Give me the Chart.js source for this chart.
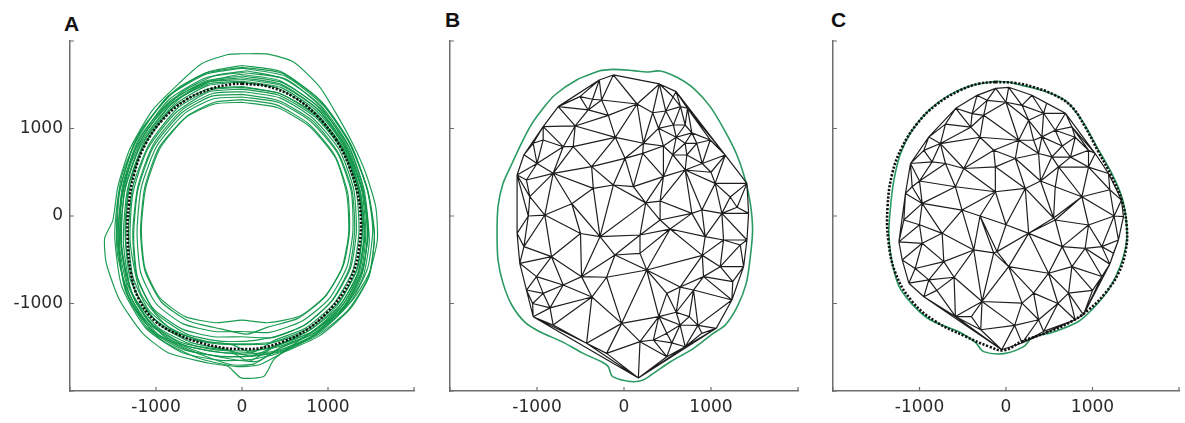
<!DOCTYPE html>
<html><head><meta charset="utf-8">
<script src="https://cdn.jsdelivr.net/npm/chart.js@4.4.1/dist/chart.umd.min.js"></script>
<style>
html,body{margin:0;padding:0;background:#fff;width:1185px;height:423px;overflow:hidden;position:relative;}
canvas{position:absolute;top:0;}
.lbl{position:absolute;font:bold 21px "Liberation Sans",Arial,sans-serif;color:#111;line-height:normal;}
</style></head><body>
<div class="lbl" style="left:64px;top:12px">A</div>
<div class="lbl" style="left:445px;top:8px">B</div>
<div class="lbl" style="left:831px;top:8px">C</div>
<canvas id="ca" width="420" height="423" style="left:0px"></canvas>
<canvas id="cb" width="424" height="423" style="left:380px"></canvas>
<canvas id="cc" width="422" height="423" style="left:763px"></canvas>
<script>
// ---------- data ----------
const tickVals = [-1000, 0, 1000];
const axisMarks = [-2000, -1000, 0, 1000, 2000];

const meanA = [[0,1512],[294,1482],[600,1360],[867,1151],[1096,866],[1249,562],[1345,258],[1383,-46],[1364,-350],[1306,-616],[1173,-882],[982,-1110],[753,-1300],[485,-1433],[218,-1509],[0,-1520],[-202,-1509],[-470,-1452],[-737,-1357],[-1005,-1205],[-1196,-958],[-1291,-654],[-1329,-274],[-1318,106],[-1253,486],[-1119,828],[-928,1094],[-661,1322],[-355,1455],[-126,1505]];

const loop1 = [[0,1854],[300,1850],[600,1760],[905,1474],[1096,1170],[1287,828],[1440,486],[1555,106],[1574,-274],[1478,-654],[1287,-958],[1020,-1186],[676,-1414],[370,-1642],[256,-1832],[-11,-1850],[-164,-1718],[-393,-1680],[-852,-1566],[-1157,-1338],[-1425,-958],[-1578,-540],[-1597,-255],[-1501,-46],[-1444,334],[-1310,752],[-1043,1208],[-737,1512],[-470,1740],[-164,1846]];
const loop2 = [[0,1720],[450,1650],[900,1330],[1230,870],[1450,330],[1520,-150],[1460,-600],[1250,-1000],[900,-1330],[450,-1560],[100,-1640],[-250,-1650],[-700,-1560],[-1120,-1280],[-1400,-800],[-1480,-200],[-1400,450],[-1160,1000],[-760,1450],[-380,1650]];
const loop3 = [[0,1690],[500,1600],[950,1260],[1280,780],[1470,250],[1540,-250],[1470,-700],[1230,-1080],[880,-1360],[480,-1540],[150,-1600],[-200,-1610],[-620,-1540],[-1050,-1300],[-1340,-880],[-1450,-300],[-1420,300],[-1230,880],[-850,1370],[-420,1620]];
const loop4 = [[50,1660],[520,1560],[930,1230],[1240,760],[1420,220],[1480,-280],[1400,-720],[1150,-1100],[800,-1380],[400,-1540],[0,-1580],[-380,-1540],[-780,-1440],[-1150,-1170],[-1380,-720],[-1440,-150],[-1360,420],[-1120,960],[-720,1400],[-330,1600]];
const loop5 = [[-30,1620],[430,1550],[880,1250],[1200,800],[1390,300],[1440,-200],[1380,-650],[1160,-1030],[820,-1320],[400,-1480],[80,-1660],[-150,-1540],[-560,-1480],[-980,-1270],[-1290,-860],[-1400,-320],[-1370,260],[-1180,800],[-820,1280],[-420,1530]];
const loop6 = [[0,1580],[470,1500],[900,1200],[1220,740],[1380,260],[1420,-240],[1340,-680],[1120,-1040],[760,-1320],[300,-1460],[0,-1470],[-300,-1460],[-700,-1380],[-1070,-1130],[-1300,-720],[-1360,-180],[-1310,380],[-1120,880],[-740,1330],[-360,1540]];
const loop7 = [[0,1330],[400,1270],[780,1050],[1080,690],[1230,260],[1250,-180],[1180,-560],[980,-900],[680,-1140],[300,-1220],[0,-1190],[-300,-1220],[-660,-1150],[-960,-930],[-1130,-590],[-1170,-150],[-1120,320],[-950,780],[-640,1140],[-320,1300]];
const loop8 = [[0,1360],[420,1300],[800,1080],[1110,720],[1270,280],[1290,-170],[1220,-580],[1010,-950],[700,-1200],[320,-1330],[0,-1320],[-320,-1320],[-690,-1230],[-1000,-1000],[-1180,-640],[-1220,-170],[-1170,330],[-990,800],[-670,1170],[-330,1340]];
const loop9 = [[20,1420],[440,1350],[820,1120],[1130,760],[1300,300],[1330,-180],[1260,-600],[1040,-980],[720,-1250],[350,-1390],[0,-1380],[-330,-1380],[-700,-1290],[-1040,-1050],[-1230,-660],[-1270,-180],[-1210,340],[-1030,820],[-700,1210],[-340,1400]];
const loop10 = [[0,1450],[430,1380],[850,1130],[1160,760],[1330,280],[1360,-190],[1290,-620],[1070,-1000],[740,-1280],[380,-1420],[120,-1560],[-120,-1470],[-500,-1420],[-880,-1250],[-1180,-880],[-1300,-300],[-1270,250],[-1100,760],[-770,1180],[-380,1420]];
const loop11 = [[-20,1530],[420,1460],[860,1180],[1180,760],[1350,300],[1400,-160],[1330,-620],[1110,-1020],[780,-1310],[400,-1480],[60,-1560],[-250,-1560],[-660,-1480],[-1040,-1250],[-1290,-850],[-1380,-280],[-1330,310],[-1130,830],[-780,1270],[-400,1490]];
const loop12 = [[0,1600],[480,1520],[920,1220],[1250,780],[1420,300],[1470,-190],[1390,-650],[1170,-1050],[820,-1350],[420,-1520],[180,-1660],[-100,-1640],[-480,-1560],[-900,-1380],[-1240,-980],[-1400,-420],[-1400,180],[-1240,760],[-880,1260],[-430,1540]];
const loop13 = [[0,1480],[440,1400],[860,1160],[1180,780],[1360,300],[1420,-200],[1350,-640],[1130,-1040],[800,-1330],[420,-1480],[100,-1600],[-200,-1520],[-580,-1450],[-960,-1240],[-1240,-860],[-1350,-320],[-1320,260],[-1150,780],[-820,1220],[-400,1450]];
const loop14 = [[30,1560],[460,1490],[880,1220],[1210,790],[1400,290],[1460,-220],[1390,-690],[1170,-1080],[830,-1370],[440,-1540],[100,-1600],[-280,-1600],[-700,-1520],[-1100,-1280],[-1360,-840],[-1440,-260],[-1390,340],[-1200,880],[-830,1320],[-400,1530]];
const loop15 = [[0,1390],[420,1320],[820,1090],[1120,720],[1280,290],[1310,-160],[1250,-590],[1050,-960],[740,-1240],[380,-1380],[60,-1430],[-260,-1430],[-640,-1350],[-1000,-1110],[-1210,-730],[-1260,-230],[-1210,300],[-1030,790],[-700,1180],[-350,1370]];
const loop16 = [[0,1640],[480,1570],[910,1270],[1230,820],[1400,340],[1460,-140],[1410,-600],[1210,-1010],[860,-1330],[460,-1500],[140,-1690],[-120,-1700],[-540,-1560],[-980,-1350],[-1300,-920],[-1420,-380],[-1400,220],[-1220,820],[-860,1320],[-420,1580]];
const loop17 = [[10,1540],[450,1470],[870,1200],[1190,790],[1370,290],[1430,-200],[1360,-660],[1140,-1060],[790,-1350],[400,-1500],[60,-1540],[-300,-1530],[-720,-1440],[-1090,-1200],[-1330,-780],[-1410,-220],[-1350,360],[-1160,860],[-800,1300],[-390,1510]];
const loop18 = [[0,1300],[410,1240],[790,1020],[1090,660],[1220,240],[1240,-200],[1160,-600],[960,-930],[650,-1170],[300,-1270],[60,-1350],[-250,-1290],[-620,-1200],[-940,-980],[-1130,-620],[-1180,-170],[-1130,330],[-960,790],[-650,1130],[-320,1280]];
const loop19 = [[0,1700],[470,1630],[930,1300],[1260,830],[1460,300],[1540,-200],[1480,-680],[1260,-1060],[900,-1370],[480,-1560],[200,-1700],[-80,-1720],[-520,-1620],[-960,-1400],[-1290,-990],[-1450,-420],[-1440,200],[-1250,820],[-870,1360],[-430,1630]];
const loop20 = [[0,1470],[440,1400],[850,1150],[1170,770],[1350,310],[1400,-170],[1340,-610],[1120,-990],[780,-1280],[360,-1440],[0,-1460],[-380,-1440],[-760,-1330],[-1080,-1080],[-1270,-690],[-1320,-200],[-1270,330],[-1080,820],[-740,1240],[-360,1440]];
const greenLoopsA = [loop1,loop2,loop3,loop4,loop5,loop6,loop7,loop8,loop9,loop10,loop11,loop12,loop13,loop14,loop15,loop16,loop17,loop18,loop19,loop20];

const nodesB = [[-284,1554],[-123,1612],[407,1509],[599,1421],[730,1231],[991,869],[1164,697],[1413,373],[1432,30],[1413,-274],[1375,-579],[1240,-960],[1060,-1284],[703,-1494],[492,-1608],[165,-1852],[-200,-1570],[-430,-1455],[-814,-1246],[-1044,-1151],[-1121,-846],[-1198,-541],[-1229,-198],[-1229,469],[-1044,831],[-929,1021],[-756,1250],[-507,1364],
[-361,1334],[-257,1326],[-411,1212],[396,1002],[568,1040],[703,1040],[703,831],[722,697],[837,831],[223,831],[453,800],[215,716],[12,659],[-372,564],[-584,792],[-699,792],[-929,869],[-814,488],[-1121,411],[-910,11],[-1083,221],[-353,316],[108,335],[453,450],[703,526],[1048,373],[780,30],[895,69],[1125,30],[1144,-274],[1336,-331],[933,-236],[415,-46],[184,-427],[-104,-446],[-833,-465],[-1006,-693],[-929,-884],[-699,-789],[-27,-1227],[261,-617],[492,-884],[799,-846],[914,-693],[1106,-579],[184,-1436],[338,-1417],[492,-1341],[645,-1246],[895,-1341],[-276,-236],[-488,-693],[-123,354],[564,1360],[415,171],[1221,217],[645,-812],[184,-217],[530,-149],[-369,-926],[-180,1150],[150,1280],[-561,1029],[-100,899],[330,1180],[-600,140],
[650,1250],[480,1200],[600,900],[780,950],[560,700],[900,600],[1000,500],[-1150,-350],[-1100,0],[-1000,600],[-1150,700],[-850,-1050],[-1050,-1000],[600,-1100],[750,-1150],[850,-1250],[400,-1150],[550,-1450],[-500,-200],[250,150],[-200,-700],[900,-450],[1250,-750],[1300,100]];

const outlineB = [[-276,1661],[-123,1676],[108,1661],[261,1646],[415,1657],[607,1585],[799,1459],[991,1250],[1164,964],[1298,697],[1394,411],[1452,145],[1478,-160],[1452,-465],[1405,-770],[1302,-1036],[1164,-1246],[1025,-1341],[799,-1513],[530,-1669],[338,-1798],[219,-1875],[108,-1894],[-23,-1875],[-138,-1829],[-180,-1722],[-253,-1669],[-468,-1570],[-714,-1436],[-968,-1322],[-1140,-1212],[-1290,-1017],[-1390,-770],[-1448,-503],[-1459,-198],[-1448,107],[-1390,373],[-1290,594],[-1179,831],[-1060,1052],[-929,1231],[-795,1383],[-545,1554],[-288,1657]];

const nodesC = [[-119,1459],[31,1471],[469,1288],[688,1174],[762,1018],[954,752],[1185,486],[1335,182],[1358,-8],[1300,-274],[1242,-426],[1108,-692],[896,-1129],[435,-1319],[185,-1452],[-50,-1528],[-292,-1300],[-585,-1148],[-950,-923],[-1123,-768],[-1200,-502],[-1238,-296],[-1181,-46],[-1162,258],[-1104,600],[-892,904],[-581,1231],[-335,1379],
[-219,1322],[-392,1170],[185,1265],[262,1094],[319,866],[415,904],[569,980],[377,714],[531,676],[608,562],[108,657],[-123,562],[-488,543],[-700,600],[-854,619],[-758,828],[-969,144],[-1085,334],[-585,334],[-123,277],[223,315],[569,334],[877,220],[1031,714],[569,-46],[954,-103],[1108,-350],[915,-369],[262,-198],[-104,-407],[-373,-388],[-969,-312],[-892,-730],[-719,-521],[31,-578],[319,-882],[492,-654],[723,-882],[-277,-977],[185,-996],[377,-1186],[800,-1186],[-508,68],[146,866],[-738,-198],[762,-578],[-258,1151],[-142,752],[435,1174],[746,673],[954,559],[-408,1015],[550,-23],[-142,-422],
[-1000,400],[-1050,-600],[-800,-850],[-600,-700],[-400,-1150],[100,-1250],[600,-1000],[1000,-850],[1200,-550],[1250,0],[1200,300],[650,800],[800,900],[-300,900],[0,1300],[300,1380],[-700,1050],[-950,750],[-1000,-100],[650,-350],[400,400],[-300,0],[0,-100]];

const outlineC = [[-123,1539],[31,1528],[185,1493],[415,1436],[685,1322],[877,1094],[1050,790],[1223,486],[1338,220],[1385,-8],[1396,-274],[1319,-578],[1185,-844],[992,-1072],[838,-1205],[569,-1319],[300,-1395],[204,-1493],[-27,-1573],[-258,-1550],[-350,-1448],[-523,-1334],[-915,-1163],[-1215,-844],[-1315,-540],[-1354,-198],[-1335,106],[-1296,410],[-1219,714],[-1085,980],[-892,1208],[-662,1379],[-392,1493]];

const meanC = [[-123,1531],[108,1520],[338,1467],[569,1379],[762,1246],[915,1018],[1069,733],[1223,448],[1338,182],[1396,-122],[1385,-388],[1300,-654],[1146,-882],[954,-1072],[723,-1224],[454,-1338],[185,-1433],[-27,-1535],[-200,-1490],[-469,-1376],[-815,-1205],[-1085,-977],[-1277,-654],[-1361,-274],[-1369,106],[-1315,486],[-1200,790],[-1027,1056],[-815,1265],[-546,1429],[-315,1512]];

// ---------- helpers ----------
const toXY = arr => arr.map(p => ({x: p[0], y: p[1]}));
const closed = arr => toXY(arr.concat([arr[0]]));

function triangulate(pts){
  const n = pts.length;
  const P = pts.map(p => [p[0], p[1]]);
  P.push([-60000,-40000],[60000,-40000],[0,60000]);
  const circ = t => {
    const [ax,ay]=P[t[0]],[bx,by]=P[t[1]],[cx,cy]=P[t[2]];
    const d = 2*(ax*(by-cy)+bx*(cy-ay)+cx*(ay-by));
    const a2=ax*ax+ay*ay, b2=bx*bx+by*by, c2=cx*cx+cy*cy;
    const ux=(a2*(by-cy)+b2*(cy-ay)+c2*(ay-by))/d;
    const uy=(a2*(cx-bx)+b2*(ax-cx)+c2*(bx-ax))/d;
    return [ux,uy,(ax-ux)**2+(ay-uy)**2];
  };
  let tris=[[n,n+1,n+2]], cc=[circ(tris[0])];
  for (let i=0;i<n;i++){
    const [px,py]=P[i];
    const keep=[], keepC=[], edges=new Map();
    tris.forEach((t,k)=>{
      const c=cc[k];
      if ((px-c[0])**2+(py-c[1])**2 < c[2]) {
        for (const [a,b] of [[t[0],t[1]],[t[1],t[2]],[t[2],t[0]]]) {
          const key = a<b ? a+'_'+b : b+'_'+a;
          if (edges.has(key)) edges.delete(key); else edges.set(key,[a,b]);
        }
      } else { keep.push(t); keepC.push(c); }
    });
    for (const [a,b] of edges.values()) { const t=[a,b,i]; keep.push(t); keepC.push(circ(t)); }
    tris=keep; cc=keepC;
  }
  return tris.filter(t => t.every(v => v<n));
}
function meshSegments(nodes){
  const tris = triangulate(nodes);
  const seen = new Set(), data = [];
  for (const t of tris) for (const [a,b] of [[t[0],t[1]],[t[1],t[2]],[t[2],t[0]]]) {
    const key = a<b ? a+'_'+b : b+'_'+a;
    if (seen.has(key)) continue; seen.add(key);
    data.push({x:nodes[a][0],y:nodes[a][1]},{x:nodes[b][0],y:nodes[b][1]},{x:NaN,y:NaN});
  }
  return data;
}

const AXIS_COLOR = '#6e6e6e';
const tickMarks = {
  id:'tickMarks',
  afterDraw(chart){
    const {ctx, chartArea:a, scales:{x,y}} = chart;
    ctx.save(); ctx.strokeStyle=AXIS_COLOR; ctx.lineWidth=1.2; ctx.beginPath();
    for (const v of axisMarks){
      const px=x.getPixelForValue(v); ctx.moveTo(px,a.bottom); ctx.lineTo(px,a.bottom-4);
      const py=y.getPixelForValue(v); ctx.moveTo(a.left,py); ctx.lineTo(a.left+4,py);
    }
    ctx.stroke(); ctx.restore();
  }
};

function axisCfg(isX, showLabels){
  return {
    type:'linear', min:-2000, max:2000,
    afterBuildTicks: s => { s.ticks = tickVals.map(v => ({value:v})); },
    ticks:{ padding: isX?6:7, color:'#2a2a2a', font:{family:'"DejaVu Sans", sans-serif', size:17},
      callback: v => showLabels ? String(v) : '', maxRotation:0, autoSkip:false },
    grid:{display:true, drawOnChartArea:false, drawTicks:false},
    border:{display:true, color:AXIS_COLOR, width:1.5},
    afterFit: s => { if (isX) s.height = 32; else s.width = 70; }
  };
}

function panel(id, datasets, showY){
  new Chart(document.getElementById(id), {
    type:'scatter',
    data:{datasets},
    options:{
      responsive:false, animation:false, events:[],
      layout:{padding:{left:0,right:6,top:41,bottom:0}},
      plugins:{legend:{display:false}, tooltip:{enabled:false}},
      elements:{point:{radius:0, hoverRadius:0}},
      scales:{x:axisCfg(true,true), y:axisCfg(false,showY)}
    },
    plugins:[tickMarks]
  });
}

const GREEN_A = 'rgba(14,150,72,0.95)';
const GREEN_O = '#2b9a62';
const MESH = '#1e1e1e';
const dotted = arr => ({data:closed(arr), showLine:true, borderColor:'#111', borderWidth:2.6, borderDash:[2.2,1.6], borderCapStyle:'butt', tension:0.4, pointRadius:0});

// Panel A
panel('ca', [dotted(meanA)].concat(greenLoopsA.map(l => ({data:closed(l), showLine:true, borderColor:GREEN_A, borderWidth:1.15, tension:0.2, pointRadius:0}))), true);

// Panel B
panel('cb', [
  {data:meshSegments(nodesB), showLine:true, spanGaps:false, borderColor:MESH, borderWidth:1.2, tension:0, pointRadius:0},
  {data:closed(outlineB), showLine:true, borderColor:GREEN_O, borderWidth:1.6, tension:0.3, pointRadius:0}
], false);

// Panel C
panel('cc', [
  dotted(meanC),
  {data:meshSegments(nodesC), showLine:true, spanGaps:false, borderColor:MESH, borderWidth:1.2, tension:0, pointRadius:0},
  {data:closed(outlineC), showLine:true, borderColor:GREEN_O, borderWidth:1.6, tension:0.3, pointRadius:0}
], false);
</script>
</body></html>
